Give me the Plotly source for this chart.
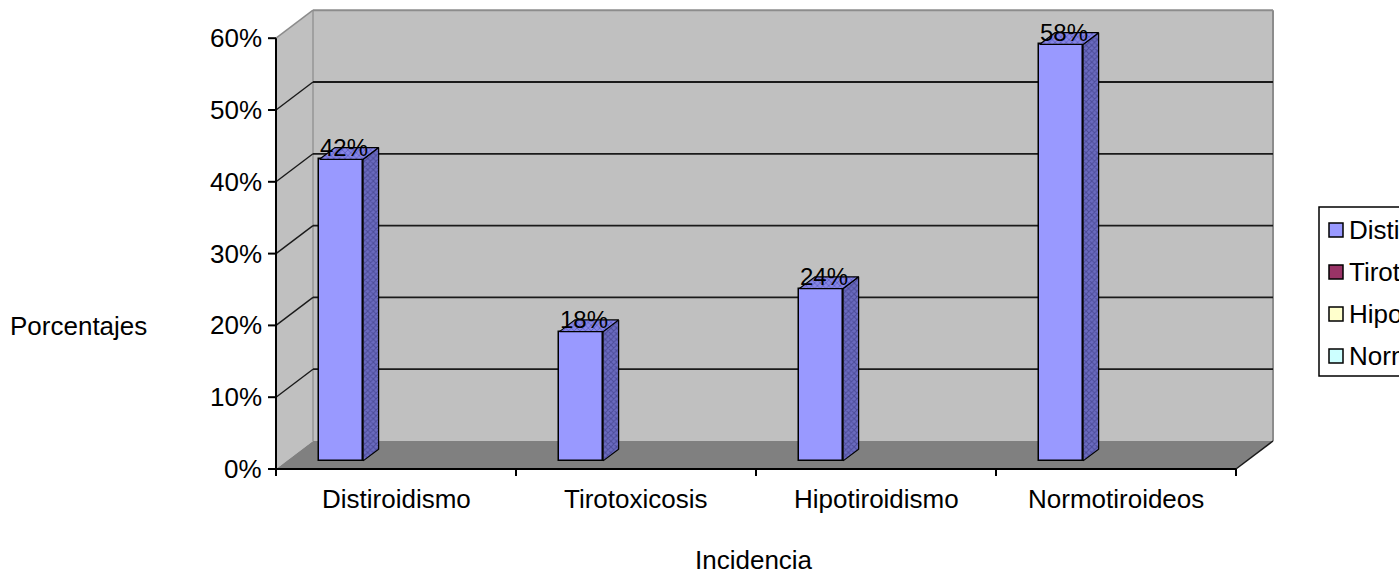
import plotly.graph_objects as go

# ---- data ---------------------------------------------------------------
categories = ["Distiroidismo", "Tirotoxicosis", "Hipotiroidismo", "Normotiroideos"]
porcentajes = [42, 18, 24, 58]
legend_colors = ["#9999FF", "#993366", "#FFFFCC", "#CCFFFF"]
y_ticks = [0, 10, 20, 30, 40, 50, 60]
y_tick_labels = ["0%", "10%", "20%", "30%", "40%", "50%", "60%"]
x_title = "Incidencia"
y_title = "Porcentajes"

# ---- geometry of the pseudo-3D box ---------------------------------------
FIG_W, FIG_H = 1399, 581
ORIGIN_X_PX, ORIGIN_Y_PX = 276, 469      # front-left-bottom corner
CAT_PX = 240                              # pixels per category
PCT_PX = 7.18                             # pixels per percentage point
DEPTH_X = 37 / CAT_PX                     # depth vector, in axis units
DEPTH_Y = 28 / PCT_PX
Y_MAX = y_ticks[-1]
N_CAT = len(categories)

SLOT_W = 1 / (4 + 1.5)                    # column width in category units
BAR_OFF = 0.75 * SLOT_W                   # gap before the column
BAR_FRONT, BAR_BACK = 0.29, 0.71          # column depth within the box

FONT = "Liberation Sans, Arial, sans-serif"
TEXT_SIZE = 26
LABEL_SIZE = 24
BAR_COLOR = "#9999FF"


def px_x(p):
    return p / FIG_W


def px_y(p):
    return 1 - p / FIG_H


shapes = []


def poly(points, fill, line_color=None, width=0):
    path = "M " + " L ".join(f"{x},{y}" for x, y in points) + " Z"
    shapes.append(dict(type="path", path=path, xref="x", yref="y",
                       fillcolor=fill, layer="below",
                       line=dict(color=line_color or fill, width=width)))


def seg(x0, y0, x1, y1, color, width):
    shapes.append(dict(type="line", xref="x", yref="y", x0=x0, y0=y0,
                       x1=x1, y1=y1, layer="below",
                       line=dict(color=color, width=width)))


# walls and floor
poly([(DEPTH_X, DEPTH_Y), (N_CAT + DEPTH_X, DEPTH_Y),
      (N_CAT + DEPTH_X, Y_MAX + DEPTH_Y), (DEPTH_X, Y_MAX + DEPTH_Y)], "#C0C0C0")
poly([(0, 0), (0, Y_MAX), (DEPTH_X, Y_MAX + DEPTH_Y), (DEPTH_X, DEPTH_Y)], "#C0C0C0")
poly([(0, 0), (N_CAT, 0), (N_CAT + DEPTH_X, DEPTH_Y), (DEPTH_X, DEPTH_Y)], "#808080")

# wall borders
seg(DEPTH_X, DEPTH_Y, DEPTH_X, Y_MAX + DEPTH_Y, "#A0A0A0", 2)
seg(DEPTH_X, Y_MAX + DEPTH_Y, N_CAT + DEPTH_X, Y_MAX + DEPTH_Y, "#8C8C8C", 2)
seg(N_CAT + DEPTH_X, DEPTH_Y, N_CAT + DEPTH_X, Y_MAX + DEPTH_Y, "#8C8C8C", 2)
seg(0, Y_MAX, DEPTH_X, Y_MAX + DEPTH_Y, "#8C8C8C", 1.5)

# gridlines on back and side walls
for v in y_ticks[1:-1]:
    seg(DEPTH_X, v + DEPTH_Y, N_CAT + DEPTH_X, v + DEPTH_Y, "#1A1A1A", 1.8)
    seg(0, v, DEPTH_X, v + DEPTH_Y, "#1A1A1A", 1.4)

# floor right edge
seg(N_CAT, 0, N_CAT + DEPTH_X, DEPTH_Y, "#1A1A1A", 1.5)

# front axes with tick marks
seg(0, 0, 0, Y_MAX, "#000000", 2)
for v in y_ticks:
    seg(0, v, -8 / CAT_PX, v, "#000000", 2)
seg(0, 0, N_CAT, 0, "#000000", 2)
for i in range(N_CAT + 1):
    seg(i, 0, i, -7 / PCT_PX, "#000000", 2)

# ---- columns -------------------------------------------------------------
lefts = [i + BAR_OFF for i in range(N_CAT)]
rights = [l + SLOT_W for l in lefts]
fronts_x = [l + SLOT_W / 2 + BAR_FRONT * DEPTH_X for l in lefts]

fig = go.Figure()
fig.add_trace(go.Bar(
    x=fronts_x, y=porcentajes, base=BAR_FRONT * DEPTH_Y, width=SLOT_W,
    marker=dict(color=BAR_COLOR, line=dict(color="#000000", width=1.5)),
    hoverinfo="skip", showlegend=False))

side_x, side_y, top_x, top_y = [], [], [], []
for l, r, v in zip(lefts, rights, porcentajes):
    fx, fy = BAR_FRONT * DEPTH_X, BAR_FRONT * DEPTH_Y
    bx, by = BAR_BACK * DEPTH_X, BAR_BACK * DEPTH_Y
    side_x += [r + fx, r + bx, r + bx, r + fx, r + fx, None]
    side_y += [fy, by, v + by, v + fy, fy, None]
    top_x += [l + fx, r + fx, r + bx, l + bx, l + fx, None]
    top_y += [v + fy, v + fy, v + by, v + by, v + fy, None]

fig.add_trace(go.Scatter(
    x=side_x, y=side_y, mode="lines", fill="toself",
    fillcolor="#55559F",
    fillpattern=dict(shape="x", bgcolor="#6B6BC0", fgcolor="#2E2E70",
                     size=4, solidity=0.45),
    line=dict(color="#000000", width=1.2),
    hoverinfo="skip", showlegend=False))
fig.add_trace(go.Scatter(
    x=top_x, y=top_y, mode="lines", fill="toself",
    fillcolor="#7777D0",
    fillpattern=dict(shape="x", bgcolor="#8585E6", fgcolor="#3A3AA0",
                     size=4, solidity=0.35),
    line=dict(color="#000000", width=1.2),
    hoverinfo="skip", showlegend=False))

# ---- text ----------------------------------------------------------------
annotations = []
for v, t in zip(y_ticks, y_tick_labels):
    annotations.append(dict(x=0, y=v, xref="x", yref="y", text=t,
                            showarrow=False, xanchor="right", yanchor="middle",
                            xshift=-12, font=dict(size=TEXT_SIZE)))
for i, c in enumerate(categories):
    annotations.append(dict(x=i + 0.5, y=0, xref="x", yref="y", text=c,
                            showarrow=False, xanchor="center", yanchor="middle",
                            yshift=-30, font=dict(size=TEXT_SIZE)))
for fx_, v in zip(fronts_x, porcentajes):
    annotations.append(dict(x=fx_ + 0.01, y=v + BAR_BACK * DEPTH_Y,
                            xref="x", yref="y", text=f"{v}%",
                            showarrow=False, xanchor="center", yanchor="middle",
                            font=dict(size=LABEL_SIZE)))

annotations.append(dict(x=px_x(78), y=px_y(326), xref="paper", yref="paper",
                        text=y_title, showarrow=False, xanchor="center",
                        yanchor="middle", font=dict(size=TEXT_SIZE)))
annotations.append(dict(x=px_x(754), y=px_y(560), xref="paper", yref="paper",
                        text=x_title, showarrow=False, xanchor="center",
                        yanchor="middle", font=dict(size=TEXT_SIZE)))

# ---- legend (extends past the right edge) --------------------------------
shapes.append(dict(type="rect", xref="paper", yref="paper",
                   x0=px_x(1319), x1=px_x(1440), y0=px_y(376), y1=px_y(207),
                   fillcolor="#FFFFFF", line=dict(color="#000000", width=1.5)))
for k, (name, col) in enumerate(zip(categories, legend_colors)):
    cy = 230 + k * 42
    shapes.append(dict(type="rect", xref="paper", yref="paper",
                       x0=px_x(1329), x1=px_x(1343),
                       y0=px_y(cy + 7), y1=px_y(cy - 7),
                       fillcolor=col, line=dict(color="#000000", width=1.5)))
    annotations.append(dict(x=px_x(1347), y=px_y(cy), xref="paper", yref="paper",
                            text=name, showarrow=False, xanchor="left",
                            yanchor="middle", font=dict(size=TEXT_SIZE)))

fig.update_layout(
    width=FIG_W, height=FIG_H,
    margin=dict(l=0, r=0, t=0, b=0),
    paper_bgcolor="#FFFFFF", plot_bgcolor="#FFFFFF",
    font=dict(family=FONT, color="#000000", size=TEXT_SIZE),
    xaxis=dict(visible=False, fixedrange=True,
               range=[-ORIGIN_X_PX / CAT_PX, (FIG_W - ORIGIN_X_PX) / CAT_PX]),
    yaxis=dict(visible=False, fixedrange=True,
               range=[-(FIG_H - ORIGIN_Y_PX) / PCT_PX, ORIGIN_Y_PX / PCT_PX]),
    shapes=shapes, annotations=annotations,
    showlegend=False, bargap=0,
)

fig.write_html("out.html", config={"displayModeBar": False})
